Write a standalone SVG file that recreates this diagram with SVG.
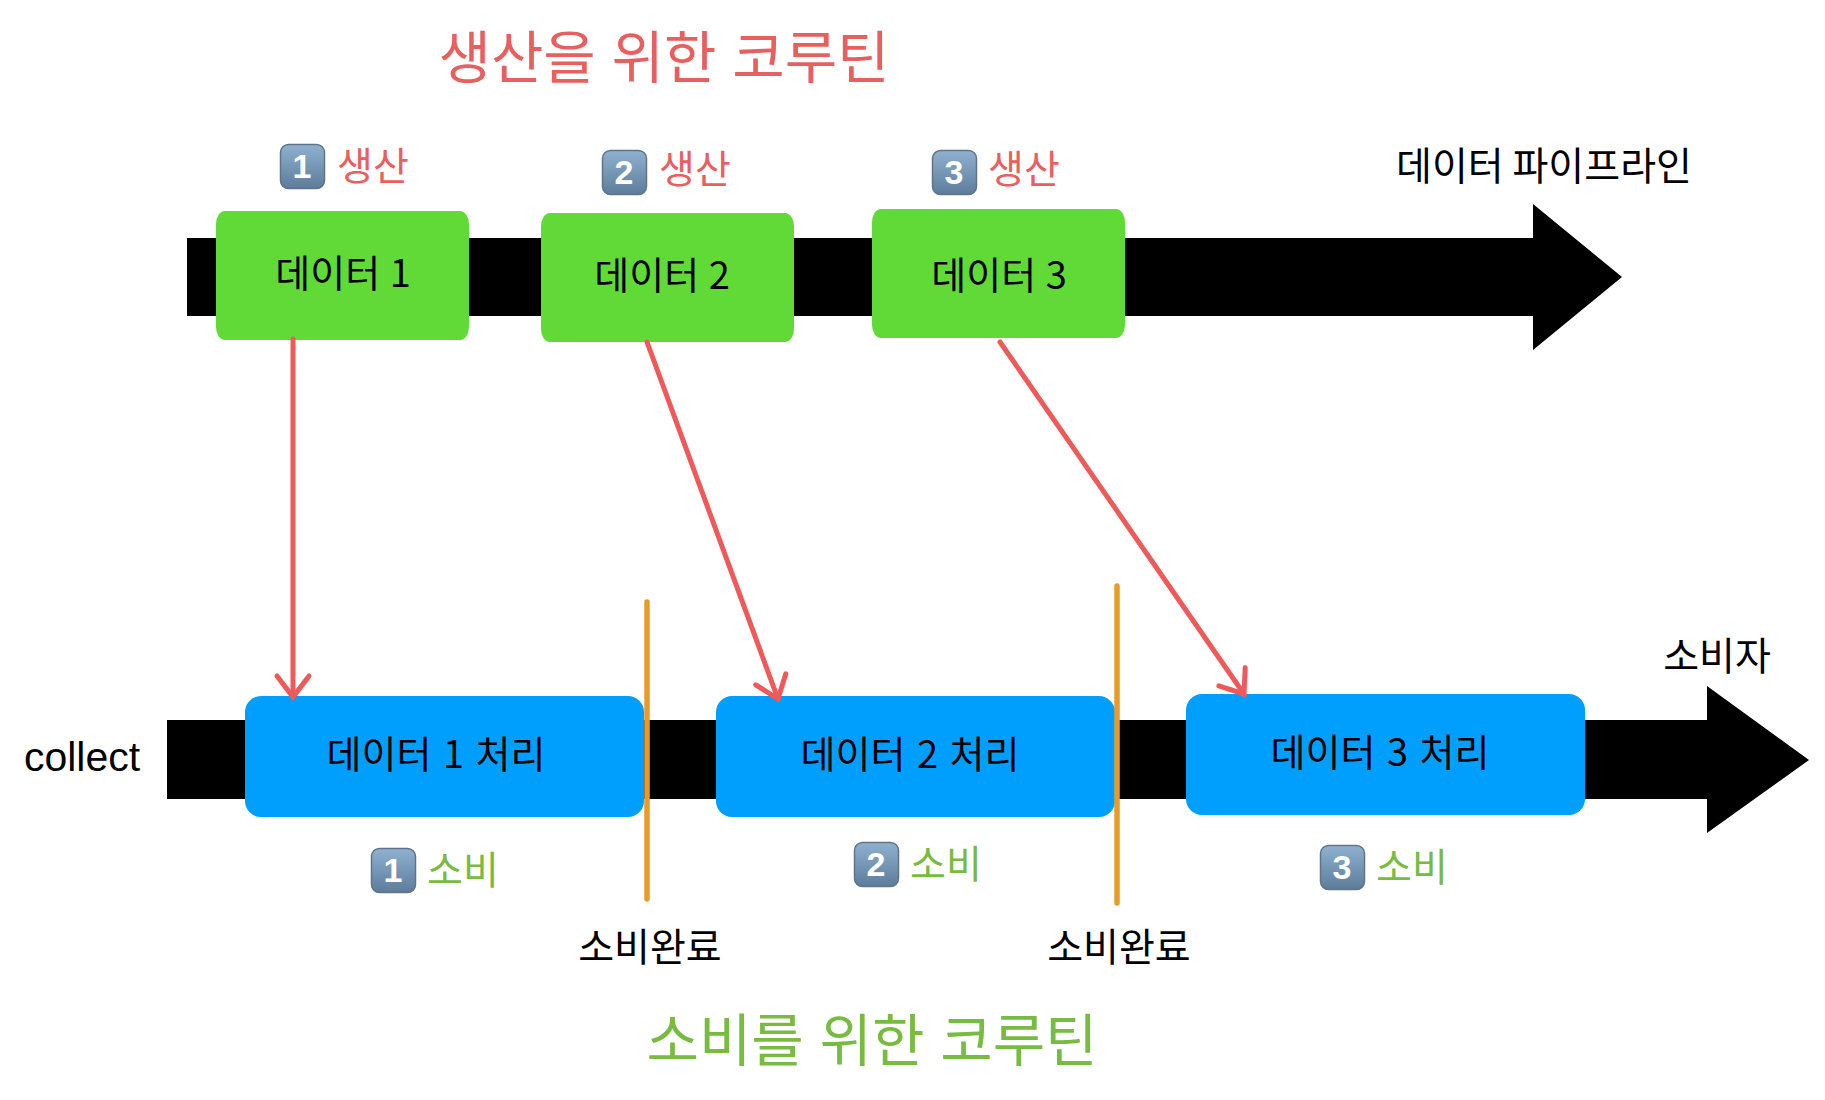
<svg xmlns="http://www.w3.org/2000/svg" width="1825" height="1100" viewBox="0 0 1825 1100">
<defs>
<linearGradient id="kc" x1="0" y1="0" x2="0" y2="1"><stop offset="0" stop-color="#8fb1cf"/><stop offset="1" stop-color="#5d7c9b"/></linearGradient>
<marker id="ah" markerUnits="userSpaceOnUse" markerWidth="40" markerHeight="40" refX="30" refY="20" orient="auto" overflow="visible"><path d="M9 4L30 20L9 36" fill="none" stroke="#ee5a5a" stroke-width="5" stroke-linecap="round"/></marker>
<g id="key"><rect x="0.5" y="0.5" width="44" height="44" rx="8" fill="url(#kc)" stroke="#5f7488" stroke-width="1.5"/></g>
</defs>
<style>
text{font-family:"Noto Sans CJK KR","Noto Sans",sans-serif}
.t{font-size:39px;fill:#000;text-anchor:middle}
.n{font-size:38px;fill:#000;text-anchor:middle}
.r{font-size:39px;fill:#e85f5f}
.g{font-size:39px;fill:#77bb41}
.h{font-size:57px;text-anchor:middle;word-spacing:3px}
.k{font-family:"Liberation Sans",sans-serif;font-weight:700;font-size:34px;fill:#fff;text-anchor:middle}
.b{fill:#61da38}.c{fill:#009ffd}
</style>
<rect width="1825" height="1100" fill="#fff"/>
<g id="pipeline"><path d="M187 238H1533V204L1622 277L1533 350V316H187Z" fill="#000"/></g>
<g id="consumer"><path d="M167 720H1707V686L1809 760L1707 833V799H167Z" fill="#000"/></g>
<text x="664" y="78" class="h" fill="#e85f5f">생산을 위한 코루틴</text>
<text x="872" y="1061" class="h" fill="#77bb41">소비를 위한 코루틴</text>
<text x="1544" y="180" class="t">데이터 파이프라인</text>
<text x="1717" y="670" class="t">소비자</text>
<text x="82" y="771" style="font-family:'Liberation Sans',sans-serif;font-size:41px;text-anchor:middle">collect</text>
<g id="d1"><rect class="b" x="216" y="211" width="253" height="129" rx="9" ry="13"/><text x="343" y="287" class="n" word-spacing="1">데이터 1</text></g>
<g id="d2"><rect class="b" x="541" y="213" width="253" height="129" rx="9" ry="13"/><text x="662" y="289" class="n" word-spacing="1">데이터 2</text></g>
<g id="d3"><rect class="b" x="872" y="209" width="253" height="129" rx="9" ry="13"/><text x="999" y="289" class="n" word-spacing="1">데이터 3</text></g>
<g id="p1"><rect class="c" x="245" y="696" width="399" height="121" rx="16"/><text x="436" y="768" class="n" word-spacing="3">데이터 1 처리</text></g>
<g id="p2"><rect class="c" x="716" y="696" width="399" height="121" rx="16"/><text x="910" y="768" class="n" word-spacing="3">데이터 2 처리</text></g>
<g id="p3"><rect class="c" x="1186" y="694" width="399" height="121" rx="16"/><text x="1380" y="766" class="n" word-spacing="3">데이터 3 처리</text></g>
<g id="connectors" fill="none" stroke="#ee5a5a" stroke-width="5" stroke-linecap="round">
<path d="M293 339V697" marker-end="url(#ah)"/>
<path d="M647 342L778 699" marker-end="url(#ah)"/>
<path d="M1000 342L1244 694" marker-end="url(#ah)"/>
<path d="M647 602V899M1117 586V903" stroke="#e99a2c" stroke-width="5.5"/>
</g>
<g id="l1"><use href="#key" x="280" y="144"/><text x="302" y="178" class="k">1</text><text x="337" y="180" class="r">생산</text></g>
<g id="l2"><use href="#key" x="602" y="150"/><text x="624" y="184" class="k">2</text><text x="659" y="183" class="r">생산</text></g>
<g id="l3"><use href="#key" x="932" y="150"/><text x="954" y="184" class="k">3</text><text x="988" y="183" class="r">생산</text></g>
<g id="u1"><use href="#key" x="371" y="848"/><text x="393" y="882" class="k">1</text><text x="427" y="884" class="g">소비</text></g>
<g id="u2"><use href="#key" x="854" y="842"/><text x="876" y="876" class="k">2</text><text x="910" y="878" class="g">소비</text></g>
<g id="u3"><use href="#key" x="1320" y="845"/><text x="1342" y="879" class="k">3</text><text x="1376" y="881" class="g">소비</text></g>
<text x="650" y="961" class="t">소비완료</text>
<text x="1119" y="961" class="t">소비완료</text>
</svg>
